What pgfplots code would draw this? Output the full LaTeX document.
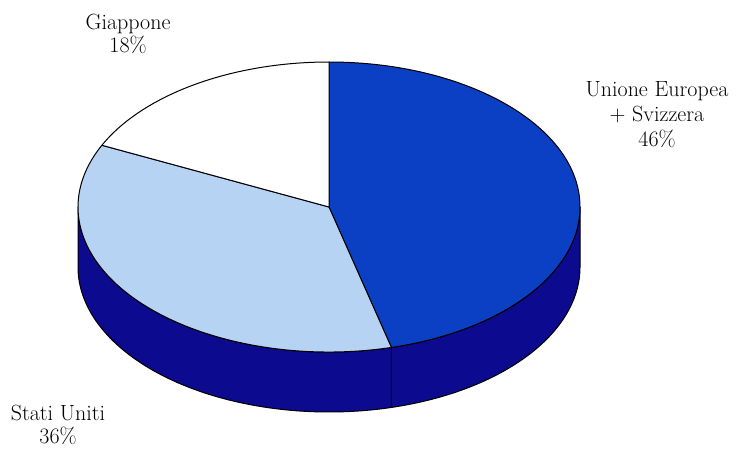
\documentclass[border=0pt]{standalone}
\usepackage{pgfplots}
\usepackage{pgfplotstable}
\pgfplotsset{compat=1.18}
\definecolor{eucol}{HTML}{0B40C4}
\definecolor{sidecol}{HTML}{0C0A8E}
\definecolor{uscol}{HTML}{B7D3F4}
\definecolor{jpcol}{HTML}{FFFFFF}
\pgfplotstableread{
share
46
36
18
}\piedata
\begin{document}
\begin{tikzpicture}
\pgfplotstablegetelem{0}{share}\of\piedata \pgfmathsetmacro\sA{\pgfplotsretval}
\pgfplotstablegetelem{1}{share}\of\piedata \pgfmathsetmacro\sB{\pgfplotsretval}
\pgfplotstablegetelem{2}{share}\of\piedata \pgfmathsetmacro\sC{\pgfplotsretval}
\pgfmathsetmacro\aA{90}
\pgfmathsetmacro\aB{\aA-3.6*\sA}
\pgfmathsetmacro\aC{\aB-3.6*\sB}
\pgfmathsetmacro\aD{\aC-3.6*\sC}
\def\cx{329}\def\cy{241}\def\rx{251}\def\ry{145}\def\dd{60}
\begin{axis}[x=1pt,y=1pt,xmin=0,xmax=738,ymin=0,ymax=448,hide axis,clip=false]
\path (axis cs:0,0) rectangle (axis cs:738,448);
% side
\filldraw[fill=sidecol,draw=black,line width=1pt,line join=round]
  (axis cs:\cx,\cy) ++(\aB:\rx pt and \ry pt)
  arc[start angle=\aB,end angle=0,x radius=\rx pt,y radius=\ry pt]
  -- ++(0,-\dd pt)
  arc[start angle=0,end angle=\aB,x radius=\rx pt,y radius=\ry pt] -- cycle;
\filldraw[fill=sidecol,draw=black,line width=1pt,line join=round]
  (axis cs:\cx,\cy) ++(-180:\rx pt and \ry pt)
  arc[start angle=-180,end angle=\aB,x radius=\rx pt,y radius=\ry pt]
  -- ++(0,-\dd pt)
  arc[start angle=\aB,end angle=-180,x radius=\rx pt,y radius=\ry pt] -- cycle;
% top
\filldraw[fill=eucol,draw=black,line width=1pt,line join=round]
  (axis cs:\cx,\cy) -- ++(\aA:\rx pt and \ry pt)
  arc[start angle=\aA,end angle=\aB,x radius=\rx pt,y radius=\ry pt] -- cycle;
\filldraw[fill=uscol,draw=black,line width=1pt,line join=round]
  (axis cs:\cx,\cy) -- ++(\aB:\rx pt and \ry pt)
  arc[start angle=\aB,end angle=\aC,x radius=\rx pt,y radius=\ry pt] -- cycle;
\filldraw[fill=jpcol,draw=black,line width=1pt,line join=round]
  (axis cs:\cx,\cy) -- ++(\aC:\rx pt and \ry pt)
  arc[start angle=\aC,end angle=\aD,x radius=\rx pt,y radius=\ry pt] -- cycle;
% labels
\node[align=center,font=\fontsize{22}{23}\selectfont,inner sep=0pt] at (axis cs:128,414) {Giappone\\18\%};
\node[align=center,font=\fontsize{22}{25}\selectfont,inner sep=0pt] at (axis cs:657,333) {Unione Europea\\+ Svizzera\\46\%};
\node[align=center,font=\fontsize{22}{23}\selectfont,inner sep=0pt] at (axis cs:58,23) {Stati Uniti\\36\%};
\end{axis}
\end{tikzpicture}
\end{document}
